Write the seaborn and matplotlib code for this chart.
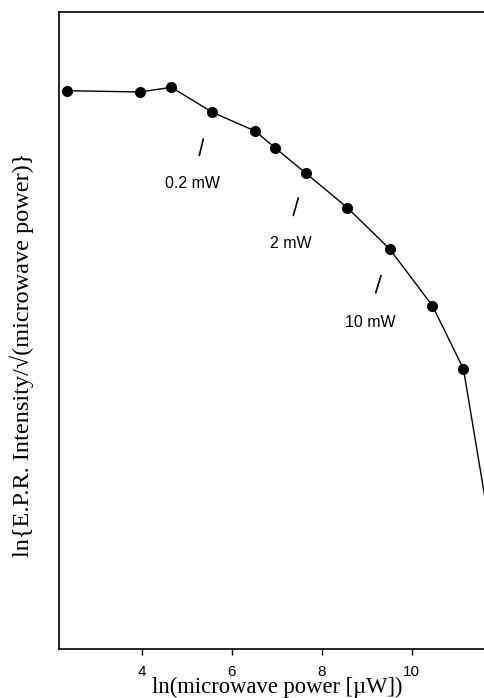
import matplotlib
matplotlib.use("Agg")
import matplotlib.pyplot as plt
import seaborn as sns
import pandas as pd

# data: ln(microwave power [uW]) vs ln{EPR intensity / sqrt(power)} (arbitrary units)
ln_power = [2.35, 3.96, 4.66, 5.57, 6.52, 6.96, 7.65, 8.57, 9.51, 10.46, 11.15, 12.0]
ln_signal = [8.761, 8.741, 8.814, 8.422, 8.129, 7.867, 7.466, 6.926, 6.278, 5.389, 4.396, 0.80]

# power annotations
ann_labels = ["0.2 mW", "2 mW", "10 mW"]
ann_text_x = [5.133, 7.318, 9.073]
ann_text_y = [7.299, 6.368, 5.121]
slash_x0 = [5.369, 7.480, 9.318]
slash_y0 = [8.005, 7.080, 5.862]
slash_x1 = [5.280, 7.369, 9.200]
slash_y1 = [7.743, 6.803, 5.591]

xticks = [4, 6, 8, 10]

sns.set_theme(style="ticks")
plt.rcParams['font.family'] = ['Liberation Sans', 'DejaVu Sans']
plt.rcParams['text.color'] = 'black'
plt.rcParams['axes.labelcolor'] = 'black'
plt.rcParams['xtick.color'] = 'black'

fig = plt.figure(figsize=(4.84, 6.98), dpi=100)
W, H = 484, 698
left_px, right_px_val = 59, 12.5
x0 = 2.162
px_per_unit = 45.0
width_px = (right_px_val - x0) * px_per_unit
ax = fig.add_axes([left_px / W, (H - 649.3) / H, width_px / W, (649.3 - 11.7) / H])

df = pd.DataFrame({"x": ln_power, "y": ln_signal})
sns.lineplot(data=df, x="x", y="y", ax=ax, color="black", linewidth=1.0,
             marker="o", markersize=7.2, markeredgecolor="black", sort=False,
             estimator=None)

for i in range(len(ann_labels)):
    ax.plot([slash_x0[i], slash_x1[i]], [slash_y0[i], slash_y1[i]], color="black", lw=1.2)
    ax.text(ann_text_x[i], ann_text_y[i], ann_labels[i], ha="center", va="center",
            fontsize=11.5, color="black", family=['Liberation Sans', 'DejaVu Sans'])

ax.set_xlim(x0, right_px_val)
ax.set_ylim(0, 10)
ax.set_xticks(xticks)
ax.set_xticklabels([str(t) for t in xticks], fontsize=11, color="black")
ax.set_yticks([])
ax.tick_params(axis="x", direction="out", length=4.5, width=1, pad=7, colors="black")
for s in ["left", "bottom", "top"]:
    ax.spines[s].set_visible(True)
    ax.spines[s].set_linewidth(1.2)
    ax.spines[s].set_color("black")
ax.spines["right"].set_visible(False)

ax.set_xlabel("ln(microwave power [\u00b5W])", fontsize=16.3, color="black",
              family=['Liberation Serif', 'DejaVu Serif'])
ax.set_ylabel("ln{E.P.R. Intensity/\u221a(microwave power)}", fontsize=17.5, color="black",
              family=['Liberation Serif', 'DejaVu Serif'])
ax.yaxis.set_label_coords(-(59 - 22) / width_px, (649.3 - 355) / (649.3 - 11.7))
ax.xaxis.set_label_coords((276.8 - 59) / width_px, -(687 - 649.3) / (649.3 - 11.7))
ax.xaxis.label.set_va("center")
ax.yaxis.label.set_va("center")

fig.savefig("out.png", dpi=100, facecolor="white")
